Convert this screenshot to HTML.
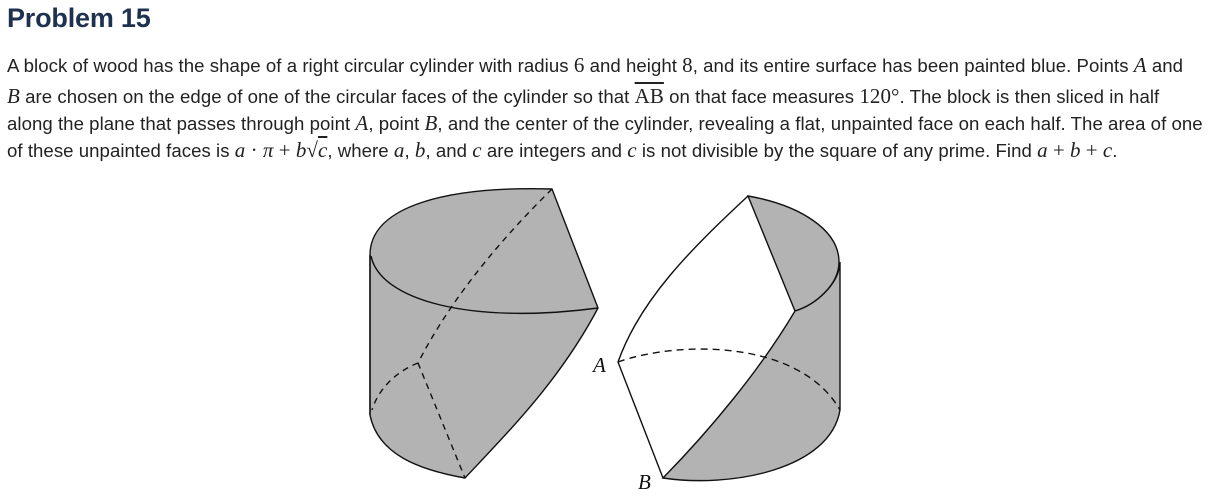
<!DOCTYPE html>
<html><head><meta charset="utf-8"><style>
body{margin:0;background:#fff;width:1213px;height:500px;overflow:hidden;font-family:"Liberation Sans",sans-serif;color:#222;}
h1{position:absolute;left:7px;top:3px;margin:0;font-size:27px;font-weight:bold;color:#1e3250;letter-spacing:-0.2px}
.l{position:absolute;left:7px;font-size:18.6px;white-space:nowrap;letter-spacing:0.05px}
.m{font-family:"Liberation Serif",serif;font-style:italic;font-size:21px}
.n{font-family:"Liberation Serif",serif;font-size:21px}
svg{position:absolute;left:0;top:0}
</style></head><body>
<h1>Problem 15</h1>
<div class="l" style="top:53px">A block of wood has the shape of a right circular cylinder with radius <span class="n">6</span> and height <span class="n">8</span>, and its entire surface has been painted blue. Points <span class="m">A</span> and</div>
<div class="l" style="top:84px"><span class="m">B</span> are chosen on the edge of one of the circular faces of the cylinder so that <span class="n" style="text-decoration:overline">AB</span> on that face measures <span class="n">120°</span>. The block is then sliced in half</div>
<div class="l" style="top:111px">along the plane that passes through point <span class="m">A</span>, point <span class="m">B</span>, and the center of the cylinder, revealing a flat, unpainted face on each half. The area of one</div>
<div class="l" style="top:138px">of these unpainted faces is <span class="m">a</span> <span class="n">· </span><span class="m">π</span> <span class="n">+</span> <span class="m">b</span><span class="n">√<span style="text-decoration:overline"><i>c</i></span></span>, where <span class="m">a</span>, <span class="m">b</span>, and <span class="m">c</span> are integers and <span class="m">c</span> is not divisible by the square of any prime. Find <span class="m">a</span> <span class="n">+</span> <span class="m">b</span> <span class="n">+</span> <span class="m">c</span>.</div>
<svg width="1213" height="500" viewBox="0 0 1213 500" fill="none" stroke="#111" stroke-width="1.4">
<path d="M370,255 C370,205 450,186 552,189 L598,308 C560,380 510,430 465,478 C420,470 378,455 370,415 Z" fill="#b3b3b3"/>
<path d="M371,256 C380,300 470,325 598,308"/>
<path d="M370,255 L370,415"/>
<path d="M552,189 C500,240 450,300 418,363" stroke-dasharray="6,5"/>
<path d="M418,363 L465,478" stroke-dasharray="6,5"/>
<path d="M418,363 C395,372 378,390 372,410" stroke-dasharray="6,5"/>
<path d="M748,196 C800,205 839,230 839,262 C839,285 815,305 795,311 Z" fill="#b3b3b3"/>
<path d="M795,311 C760,370 710,430 663,478 C730,488 830,470 840,410 L840,262 C839,285 815,305 795,311 Z" fill="#b3b3b3"/>
<path d="M748,196 C690,250 640,300 618,362 L663,478"/>
<path d="M618,362 C680,340 800,340 840,410" stroke-dasharray="7,5"/>
<text x="593" y="372" font-family="Liberation Serif,serif" font-style="italic" font-size="21" fill="#111" stroke="none">A</text>
<text x="638" y="489" font-family="Liberation Serif,serif" font-style="italic" font-size="21" fill="#111" stroke="none">B</text>
</svg>
</body></html>
